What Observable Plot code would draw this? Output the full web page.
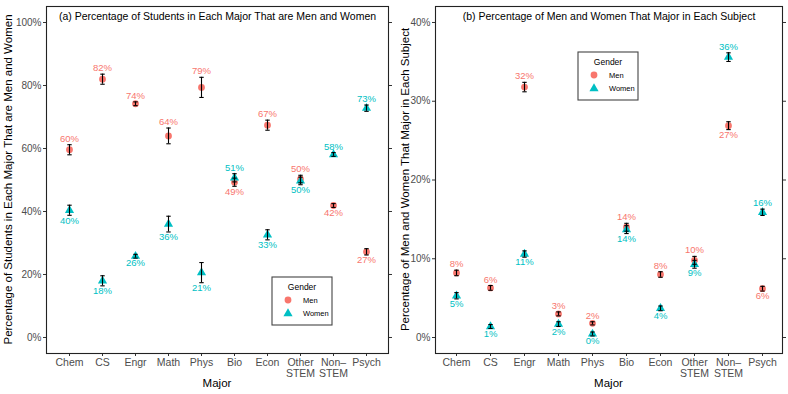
<!DOCTYPE html>
<html>
<head>
<meta charset="utf-8">
<script src="https://cdn.jsdelivr.net/npm/d3@7"></script>
<script src="https://cdn.jsdelivr.net/npm/@observablehq/plot@0.6"></script>
<style>
  html, body { margin: 0; padding: 0; background: white; }
  #wrap { display: flex; width: 788px; height: 394px; }
  svg { font-family: "Liberation Sans", Arial, sans-serif; }
</style>
</head>
<body>
<div id="wrap"></div>
<script>
// ---------- data ----------
const majors = ["Chem", "CS", "Engr", "Math", "Phys", "Bio", "Econ", "Other STEM", "Non-STEM", "Psych"];
const majorTickLabels = ["Chem", "CS", "Engr", "Math", "Phys", "Bio", "Econ", "Other\nSTEM", "Non\u2013\nSTEM", "Psych"];
const genders = ["Men", "Women"];
const genderColors = ["#F8766D", "#00BFC4"];

// (a) share of each major that is men / women (%)
const menA   = [59.6, 82.0, 74.2, 64.0, 79.4, 49.3, 67.4, 50.3, 41.9, 27.2];
const womenA = [40.4, 18.0, 25.8, 36.0, 20.6, 50.7, 32.6, 49.7, 58.1, 72.8];
const errA   = [1.6, 1.6, 0.6, 2.5, 3.2, 1.3, 1.6, 1.2, 0.6, 1.0];
const yTicksA = [0, 20, 40, 60, 80, 100];

// (b) share of men / women majoring in each subject (%)
const menB      = [8.2, 6.3, 31.8, 3.0, 1.8, 14.0, 8.0, 9.8, 26.9, 6.2];
const womenB    = [5.3, 1.4, 10.6, 1.7, 0.45, 13.7, 3.7, 9.3, 35.6, 15.9];
const errMenB   = [0.35, 0.3, 0.6, 0.25, 0.2, 0.5, 0.35, 0.5, 0.5, 0.3];
const errWomenB = [0.4, 0.25, 0.4, 0.3, 0.25, 0.5, 0.3, 0.5, 0.55, 0.4];
const yTicksB = [0, 10, 20, 30, 40];

const titleA = "(a) Percentage of Students in Each Major That are Men and Women";
const titleB = "(b) Percentage of Men and Women That Major in Each Subject";
const yLabelA = "Percentage of Students in Each Major That are Men and Women";
const yLabelB = "Percentage of Men and Women That Major in Each Subject";
const xLabel = "Major";

// ---------- build rows ----------
function buildRows(men, women, errM, errW) {
  return majors.flatMap((m, i) => {
    const menHigh = men[i] >= women[i];
    return [
      {major: m, gender: "Men", value: men[i], lo: men[i] - errM[i], hi: men[i] + errM[i], above: menHigh},
      {major: m, gender: "Women", value: women[i], lo: women[i] - errW[i], hi: women[i] + errW[i], above: !menHigh}
    ];
  });
}
const rowsA = buildRows(menA, womenA, errA, errA);
const rowsB = buildRows(menB, womenB, errMenB, errWomenB);

const capSymbol = {draw(ctx) { ctx.moveTo(-2.2, 0); ctx.lineTo(2.2, 0); }};
const tickLabelMap = new Map(majors.map((m, i) => [m, majorTickLabels[i]]));

function panel({rows, yDomain, yTicks, title, yLabel, marginLeft, yTitleX, legend}) {
  const W = 394, H = 394, mr = 6, mt = 6, mb = 41;
  const chart = Plot.plot({
    width: W, height: H,
    marginLeft, marginRight: mr, marginTop: mt, marginBottom: mb,
    style: {fontFamily: "'Liberation Sans', Arial, sans-serif", fontSize: "10px", background: "white", overflow: "visible"},
    x: {type: "point", domain: majors, padding: 0.6, label: null},
    y: {domain: yDomain, label: null},
    color: {domain: genders, range: genderColors},
    symbol: {domain: genders, range: ["circle", "triangle"]},
    marks: [
      Plot.axisX({tickSize: 3, tickPadding: 1.5, tickFormat: d => tickLabelMap.get(d), fill: "#4d4d4d", stroke: "#333", fontSize: 10.5, lineHeight: 1.05, label: null}),
      Plot.axisY({ticks: yTicks, tickSize: 3, tickPadding: 2, tickFormat: d => d + "%", fill: "#4d4d4d", stroke: "#333", fontSize: 10, label: null}),
      Plot.axisY({anchor: "right", ticks: yTicks, tickSize: 3, tickFormat: () => "", stroke: "#333", label: null}),
      Plot.frame({stroke: "#222", strokeWidth: 1.1}),
      Plot.dot(rows, {x: "major", y: "value", fill: "gender", symbol: "gender", r: 3.4}),
      Plot.ruleX(rows, {x: "major", y1: "lo", y2: "hi", stroke: "black", strokeWidth: 1.1}),
      Plot.dot(rows, {x: "major", y: "lo", symbol: capSymbol, stroke: "black", strokeWidth: 1.1, fill: "none"}),
      Plot.dot(rows, {x: "major", y: "hi", symbol: capSymbol, stroke: "black", strokeWidth: 1.1, fill: "none"}),
      Plot.text(rows, {filter: d => d.above, x: "major", y: "hi", text: d => Math.round(d.value) + "%", fill: "gender", lineAnchor: "bottom", dy: -3, fontSize: 9.5}),
      Plot.text(rows, {filter: d => !d.above, x: "major", y: "lo", text: d => Math.round(d.value) + "%", fill: "gender", lineAnchor: "top", dy: 1.5, fontSize: 9.5}),
      Plot.text([title], {frameAnchor: "top", dy: 10, lineAnchor: "middle", fill: "black", fontSize: 10.5})
    ]
  });
  const svg = d3.select(chart);
  const cx = (marginLeft + (W - mr)) / 2;
  const cy = (mt + (H - mb)) / 2;
  svg.append("text").attr("transform", `translate(${yTitleX},${cy}) rotate(-90)`)
    .attr("text-anchor", "middle").attr("font-size", 11.5).attr("fill", "black").text(yLabel);
  svg.append("text").attr("x", cx).attr("y", 387).attr("text-anchor", "middle")
    .attr("font-size", 11.5).attr("fill", "black").text(xLabel);
  // legend
  const g = svg.append("g").attr("transform", `translate(${legend[0]},${legend[1]})`);
  g.append("rect").attr("x", 0).attr("y", 0).attr("width", 60).attr("height", 48)
    .attr("fill", "white").attr("stroke", "#444").attr("stroke-width", 1.1);
  g.append("text").attr("x", 30).attr("y", 13).attr("text-anchor", "middle").attr("font-size", 8.5).attr("fill", "black").text("Gender");
  genders.forEach((gname, i) => {
    const yy = 23 + i * 13.5;
    const sym = d3.symbol(i === 0 ? d3.symbolCircle : d3.symbolTriangle, Math.PI * 3.4 * 3.4);
    g.append("path").attr("d", sym()).attr("transform", `translate(16,${yy})`).attr("fill", genderColors[i]);
    g.append("text").attr("x", 31).attr("y", yy + 2.5).attr("text-anchor", "start").attr("font-size", 7.5).attr("fill", "black").text(gname);
  });
  return chart;
}

const wrap = document.getElementById("wrap");
wrap.append(panel({rows: rowsA, yDomain: [-5.08, 105.08], yTicks: yTicksA, title: titleA, yLabel: yLabelA, marginLeft: 46, yTitleX: 12, legend: [272, 277]}));
wrap.append(panel({rows: rowsB, yDomain: [-2.03, 42.03], yTicks: yTicksB, title: titleB, yLabel: yLabelB, marginLeft: 41, yTitleX: 15, legend: [184, 52]}));
</script>
</body>
</html>
